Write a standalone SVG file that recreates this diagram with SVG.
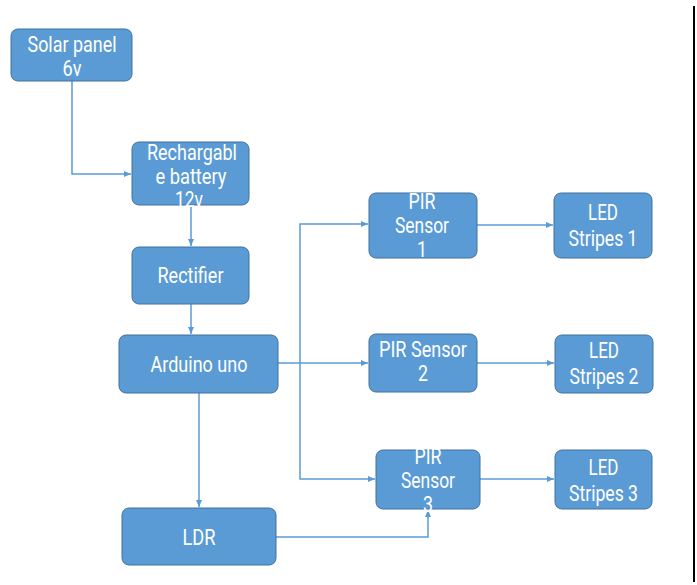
<svg xmlns="http://www.w3.org/2000/svg" width="697" height="585" viewBox="0 0 697 585">
<style>
.box{fill:#5B9BD5;stroke:#41719C;stroke-width:1}
.t{font-family:Roboto,"Liberation Sans",sans-serif;font-size:22px;fill:#FFFFFF;text-anchor:middle}
.c{fill:none;stroke:#5B9BD5;stroke-width:1.5}
</style>
<defs>
<marker id="ah" markerUnits="userSpaceOnUse" markerWidth="8" markerHeight="8" refX="7" refY="4" orient="auto">
<path d="M0,1 L7,4 L0,7 Z" fill="#5B9BD5"/>
</marker>
</defs>
<rect x="0" y="0" width="697" height="585" fill="#FFFFFF"/>
<line x1="694" y1="6" x2="694" y2="582" stroke="#000000" stroke-width="2"/>
<g id="connectors">
<path class="c" d="M72,81 V174 H131" marker-end="url(#ah)"/>
<path class="c" d="M191,205 V246" marker-end="url(#ah)"/>
<path class="c" d="M191,304 V334" marker-end="url(#ah)"/>
<path class="c" d="M278,363 H300 V224 H368" marker-end="url(#ah)"/>
<path class="c" d="M300,363 H368" marker-end="url(#ah)"/>
<path class="c" d="M300,363 V479 H375" marker-end="url(#ah)"/>
<path class="c" d="M477,225 H553" marker-end="url(#ah)"/>
<path class="c" d="M477,363 H554" marker-end="url(#ah)"/>
<path class="c" d="M480,479 H554" marker-end="url(#ah)"/>
<path class="c" d="M199,393 V507" marker-end="url(#ah)"/>
<path class="c" d="M276,537 H428 V510" marker-end="url(#ah)"/>
</g>
<g id="solar">
<rect class="box" x="11" y="29" width="121" height="52" rx="7"/>
<text class="t" x="72" y="52" textLength="89" lengthAdjust="spacingAndGlyphs">Solar panel</text>
<text class="t" x="72" y="76" textLength="19" lengthAdjust="spacingAndGlyphs">6v</text>
</g>
<g id="battery">
<rect class="box" x="132" y="142" width="117" height="63" rx="7"/>
<text class="t" x="192" y="160" textLength="90" lengthAdjust="spacingAndGlyphs">Rechargabl</text>
<text class="t" x="191" y="183.5" textLength="71" lengthAdjust="spacingAndGlyphs">e battery</text>
<text class="t" x="189" y="207" textLength="28" lengthAdjust="spacingAndGlyphs">12v</text>
</g>
<g id="rectifier">
<rect class="box" x="132" y="247" width="117" height="57" rx="7"/>
<text class="t" x="190.5" y="283" textLength="66" lengthAdjust="spacingAndGlyphs">Rectifier</text>
</g>
<g id="arduino">
<rect class="box" x="119" y="335" width="159" height="58" rx="7"/>
<text class="t" x="199" y="372" textLength="97" lengthAdjust="spacingAndGlyphs">Arduino uno</text>
</g>
<g id="ldr">
<rect class="box" x="122" y="508" width="154" height="57" rx="7"/>
<text class="t" x="199" y="545" textLength="33" lengthAdjust="spacingAndGlyphs">LDR</text>
</g>
<g id="pir1">
<rect class="box" x="369" y="193" width="108" height="65" rx="7"/>
<text class="t" x="422" y="209" textLength="27" lengthAdjust="spacingAndGlyphs">PIR</text>
<text class="t" x="422" y="233" textLength="54" lengthAdjust="spacingAndGlyphs">Sensor</text>
<text class="t" x="422" y="257" textLength="10" lengthAdjust="spacingAndGlyphs">1</text>
</g>
<g id="pir2">
<rect class="box" x="369" y="334" width="108" height="58" rx="7"/>
<text class="t" x="423" y="357" textLength="88" lengthAdjust="spacingAndGlyphs">PIR Sensor</text>
<text class="t" x="423" y="381" textLength="10" lengthAdjust="spacingAndGlyphs">2</text>
</g>
<g id="pir3">
<rect class="box" x="376" y="450" width="104" height="59" rx="7"/>
<text class="t" x="428" y="464" textLength="27" lengthAdjust="spacingAndGlyphs">PIR</text>
<text class="t" x="428" y="488" textLength="54" lengthAdjust="spacingAndGlyphs">Sensor</text>
<text class="t" x="428" y="512" textLength="10" lengthAdjust="spacingAndGlyphs">3</text>
</g>
<g id="led1">
<rect class="box" x="554" y="193" width="98" height="65" rx="7"/>
<text class="t" x="603" y="220" textLength="30" lengthAdjust="spacingAndGlyphs">LED</text>
<text class="t" x="603" y="246" textLength="69" lengthAdjust="spacingAndGlyphs">Stripes 1</text>
</g>
<g id="led2">
<rect class="box" x="555" y="335" width="98" height="58" rx="7"/>
<text class="t" x="604" y="358" textLength="30" lengthAdjust="spacingAndGlyphs">LED</text>
<text class="t" x="604" y="384" textLength="69" lengthAdjust="spacingAndGlyphs">Stripes 2</text>
</g>
<g id="led3">
<rect class="box" x="555" y="450" width="97" height="59" rx="7"/>
<text class="t" x="603.5" y="475" textLength="30" lengthAdjust="spacingAndGlyphs">LED</text>
<text class="t" x="603.5" y="501" textLength="69" lengthAdjust="spacingAndGlyphs">Stripes 3</text>
</g>
</svg>
